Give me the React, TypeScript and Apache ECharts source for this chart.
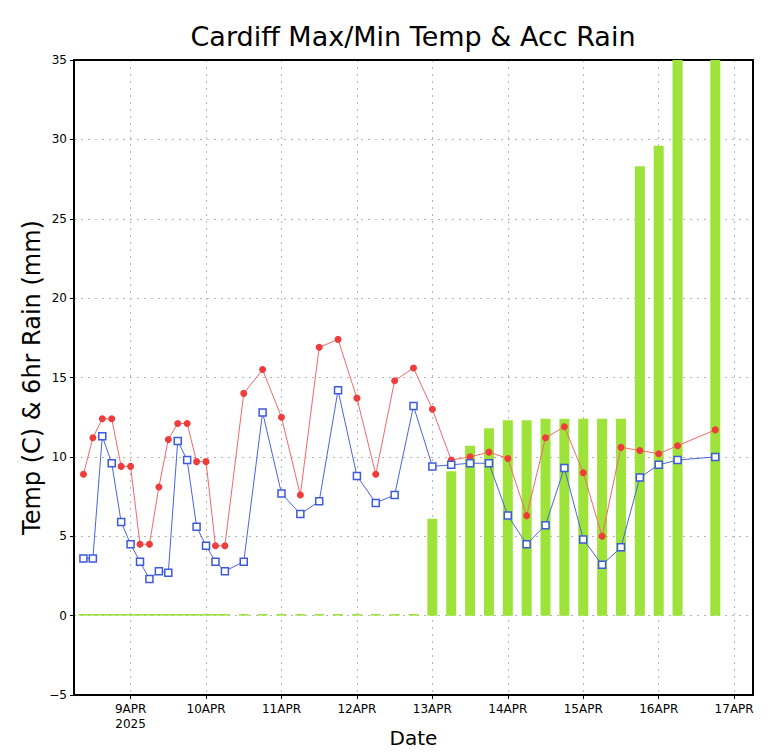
import React, { useEffect, useRef } from "react";
import * as echarts from "echarts";

// Hours since 8 APR 2025 00:00
const tempHours = [
  9, 12, 15, 18, 21, 24, 27, 30, 33, 36, 39, 42, 45, 48, 51, 54,
  60, 66, 72, 78, 84, 90, 96, 102, 108, 114, 120, 126, 132, 138, 144,
  150, 156, 162, 168, 174, 180, 186, 192, 198, 210,
];
const maxTemp = [
  8.9, 11.2, 12.4, 12.4, 9.4, 9.4, 4.5, 4.5, 8.1, 11.1, 12.1, 12.1, 9.7, 9.7, 4.4, 4.4,
  14.0, 15.5, 12.5, 7.6, 16.9, 17.4, 13.7, 8.9, 14.8, 15.6, 13.0, 9.8, 10.0, 10.3, 9.9,
  6.3, 11.2, 11.9, 9.0, 5.0, 10.6, 10.4, 10.2, 10.7, 11.7,
];
const minTemp = [
  3.6, 3.6, 11.3, 9.6, 5.9, 4.5, 3.4, 2.3, 2.8, 2.7, 11.0, 9.8, 5.6, 4.4, 3.4, 2.8,
  3.4, 12.8, 7.7, 6.4, 7.2, 14.2, 8.8, 7.1, 7.6, 13.2, 9.4, 9.5, 9.6, 9.6, 6.3,
  4.5, 5.7, 9.3, 4.8, 3.2, 4.3, 8.7, 9.5, 9.8, 10.0,
];
const accRain = [
  0.1, 0.1, 0.1, 0.1, 0.1, 0.1, 0.1, 0.1, 0.1, 0.1, 0.1, 0.1, 0.1, 0.1, 0.1, 0.1,
  0.1, 0.1, 0.1, 0.1, 0.1, 0.1, 0.1, 0.1, 0.1, 0.1, 6.1, 9.1, 10.7, 11.8, 12.3,
  12.3, 12.4, 12.4, 12.4, 12.4, 12.4, 28.3, 29.6, 36.0, 36.0,
];
const dayTicks = [24, 48, 72, 96, 120, 144, 168, 192, 216];
const dayLabels = ["9APR\n2025", "10APR", "11APR", "12APR", "13APR", "14APR", "15APR", "16APR", "17APR"];

const X_MIN = 6;
const X_MAX = 222;

export default function App() {
  const ref = useRef<HTMLDivElement>(null);
  useEffect(() => {
    if (!ref.current) return;
    const chart = echarts.init(ref.current, null, { renderer: "svg" });
    const font = "DejaVu Sans";
    const pair = (arr: number[]) => tempHours.map((h, i) => [h, arr[i]]);
    const gridLine = { show: true, lineStyle: { color: "#b4b4b4", type: [2, 5] as any, width: 1 } };
    chart.setOption({
      animation: false,
      backgroundColor: "#ffffff",
      textStyle: { fontFamily: font },
      grid: { left: 74, right: 17, top: 60, bottom: 59, containLabel: false, outerBoundsMode: "none" },
      graphic: [
        {
          type: "text",
          x: 413,
          y: 36,
          style: {
            text: "Cardiff Max/Min Temp & Acc Rain",
            fontFamily: font,
            fontSize: 27,
            fill: "#000",
            align: "center",
            verticalAlign: "middle",
          },
        },
      ],
      xAxis: [
        {
          type: "value",
          min: X_MIN,
          max: X_MAX,
          position: "bottom",
          name: "Date",
          nameLocation: "middle",
          nameGap: 33,
          nameMoveOverlap: false,
          nameTextStyle: { fontSize: 20, color: "#000", fontFamily: font },
          axisLine: { show: true, onZero: false, lineStyle: { color: "#000", width: 2 } },
          axisTick: { show: true, customValues: dayTicks, length: 4, lineStyle: { color: "#000" } },
          axisLabel: {
            customValues: dayTicks,
            color: "#000",
            fontSize: 12,
            margin: 6,
            lineHeight: 15,
            formatter: (v: number) => dayLabels[dayTicks.indexOf(v)] ?? "",
          },
          splitLine: gridLine,
        },
        {
          type: "value",
          min: X_MIN,
          max: X_MAX,
          position: "top",
          axisLine: { show: true, onZero: false, lineStyle: { color: "#000", width: 2, type: [5, 1] as any } },
          axisTick: { show: false },
          axisLabel: { show: false },
          splitLine: { show: false },
        },
      ],
      yAxis: [
        {
          type: "value",
          min: -5,
          max: 35,
          interval: 5,
          position: "left",
          name: "Temp (C) & 6hr Rain (mm)",
          nameLocation: "middle",
          nameGap: 30,
          nameMoveOverlap: false,
          nameTextStyle: { fontSize: 24, color: "#000", fontFamily: font },
          axisLine: { show: true, onZero: false, lineStyle: { color: "#000", width: 2 } },
          axisTick: { show: true, length: 4, lineStyle: { color: "#000" } },
          axisLabel: {
            color: "#000",
            fontSize: 12,
            margin: 7,
            formatter: (v: number) => (v < 0 ? "\u2212" + Math.abs(v) : String(v)),
          },
          splitLine: gridLine,
        },
        {
          type: "value",
          min: -5,
          max: 35,
          interval: 5,
          position: "right",
          axisLine: { show: true, onZero: false, lineStyle: { color: "#000", width: 2 } },
          axisTick: { show: false },
          axisLabel: { show: false },
          splitLine: { show: false },
        },
      ],
      series: [
        {
          name: "Acc Rain",
          type: "bar",
          data: pair(accRain),
          barWidth: 10,
          clip: true,
          itemStyle: { color: "#9ee33a" },
          z: 1,
        },
        {
          name: "Max Temp",
          type: "line",
          data: pair(maxTemp),
          symbol: "circle",
          symbolSize: 7,
          lineStyle: { color: "#f26868", width: 1 },
          itemStyle: { color: "#f03c3c" },
          z: 3,
        },
        {
          name: "Min Temp",
          type: "line",
          data: pair(minTemp),
          symbol: "rect",
          symbolSize: 7,
          lineStyle: { color: "#4a64e0", width: 1 },
          itemStyle: { color: "#ffffff", borderColor: "#3c5adc", borderWidth: 1.5 },
          z: 4,
        },
      ],
    });
    return () => chart.dispose();
  }, []);
  return (
    <div
      ref={ref}
      style={{ position: "fixed", left: 0, top: 0, width: 770, height: 754, background: "#fff" }}
    />
  );
}
